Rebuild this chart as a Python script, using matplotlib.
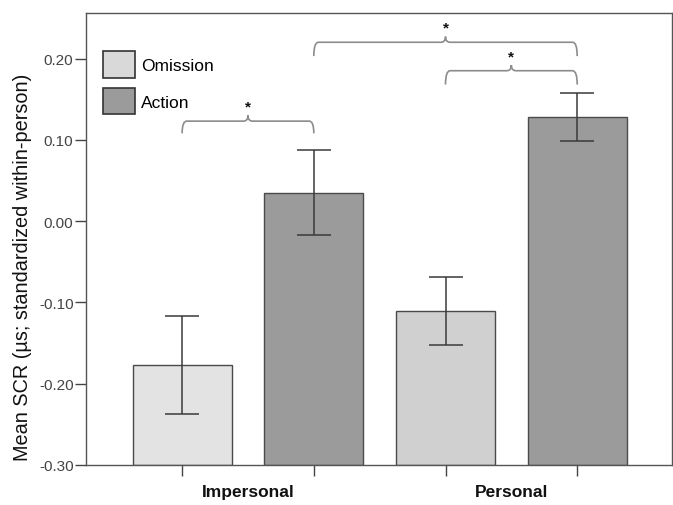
import matplotlib
matplotlib.use("Agg")
import matplotlib.pyplot as plt
import numpy as np
from matplotlib.path import Path
from matplotlib.patches import PathPatch, Patch

plt.rcParams["font.family"] = ["Liberation Sans", "DejaVu Sans"]

# Data
groups = ["Impersonal", "Personal"]
conditions = ["Omission", "Action"]
means = [-0.177, 0.035, -0.111, 0.128]      # Imp-Om, Imp-Act, Pers-Om, Pers-Act
errors = [0.060, 0.052, 0.042, 0.030]
bar_colors = ["#e3e3e3", "#9b9b9b", "#d0d0d0", "#9b9b9b"]
legend_colors = {"Omission": "#d9d9d9", "Action": "#9b9b9b"}

# significance brackets: (bar i, bar j, line y, end y)
brackets = [(0, 1, 0.123, 0.108), (1, 3, 0.220, 0.203), (2, 3, 0.185, 0.168)]

y_min = -0.30

fig = plt.figure(figsize=(6.73, 5.06), dpi=100)
ax = fig.add_axes([86 / 673, 1 - 466 / 506, 586 / 673, 452 / 506])

x = np.arange(len(means))
heights = [m - y_min for m in means]
ax.bar(x, heights, width=0.75, bottom=y_min, color=bar_colors, edgecolor="#4a4a4a",
       linewidth=1.0, zorder=2)

ax.errorbar(x, means, yerr=errors, fmt="none", ecolor="#3a3a3a", elinewidth=1.1,
            capsize=12, capthick=1.1, zorder=3)


def brace(x0, x1, y_line, y_end, color="#8c8c8c"):
    dx = 0.035
    h = 0.007
    xm = (x0 + x1) / 2
    verts = [(x0, y_end), (x0, y_line), (x0 + dx, y_line),
             (xm - dx, y_line), (xm, y_line), (xm, y_line + h),
             (xm, y_line), (xm + dx, y_line),
             (x1 - dx, y_line), (x1, y_line), (x1, y_end)]
    codes = [Path.MOVETO, Path.CURVE3, Path.CURVE3,
             Path.LINETO, Path.CURVE3, Path.CURVE3,
             Path.CURVE3, Path.CURVE3,
             Path.LINETO, Path.CURVE3, Path.CURVE3]
    ax.add_patch(PathPatch(Path(verts, codes), facecolor="none", edgecolor=color,
                           linewidth=1.2, zorder=4))
    ax.text(xm, y_line + 0.009, "*", ha="center", va="bottom", fontsize=11,
            fontweight="bold", color="#111111")


for i, j, yl, ye in brackets:
    brace(x[i], x[j], yl, ye)

ax.set_xlim(-0.73, 3.72)
ax.set_ylim(y_min, 0.256)
ax.set_yticks([-0.30, -0.20, -0.10, 0.00, 0.10, 0.20])
ax.set_yticklabels(["-0.30", "-0.20", "-0.10", "0.00", "0.10", "0.20"])
ax.set_xticks(x)
ax.set_xticklabels([""] * len(x))
ax.set_xticks([0.5, 2.5], minor=True)
ax.set_xticklabels(groups, minor=True, fontsize=12.5, fontweight="bold", color="#111111")
ax.tick_params(axis="x", which="major", direction="out", length=8, width=1, color="#444444")
ax.tick_params(axis="x", which="minor", length=0, pad=14)
ax.tick_params(axis="y", direction="out", length=8, width=1, color="#444444",
               labelsize=11, labelcolor="#444444", pad=1)

for s in ax.spines.values():
    s.set_color("#555555")
    s.set_linewidth(1.0)

ax.set_ylabel("Mean SCR (µs; standardized within-person)", fontsize=14.3,
              color="#111111")
ax.yaxis.set_label_coords(-0.092, 0.44)

handles = [Patch(facecolor=legend_colors[c], edgecolor="#333333", linewidth=1.2, label=c)
           for c in conditions]
ax.legend(handles=handles, loc="upper left", bbox_to_anchor=(0.029, 0.915), frameon=False,
          fontsize=12.5, handlelength=1.84, handleheight=1.95, handletextpad=0.35,
          labelspacing=0.6, borderaxespad=0, borderpad=0)

fig.savefig("out.png", dpi=100)
